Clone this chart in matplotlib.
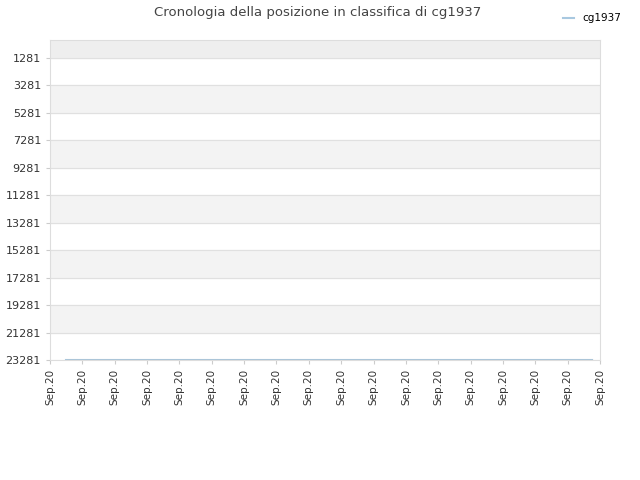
import matplotlib
matplotlib.use("Agg")
import matplotlib.pyplot as plt

tick_labels = ["Sep.20"] * 18
yticks = [1281, 3281, 5281, 7281, 9281, 11281, 13281, 15281, 17281, 19281, 21281, 23281]
x_vals = [0.5, 16.75]
ranks = [23281, 23281]

fig = plt.figure(figsize=(6.4, 4.8), dpi=100)
ax = fig.add_axes([50/640, 1-360/480, 550/640, 320/480])
ax.set_xlim(0, 17)
ax.set_ylim(23281, -30)
ax.axhspan(-30, 1281, color="#eeeeee", zorder=0)
for i in range(len(yticks) - 1):
    if i % 2 == 1:
        ax.axhspan(yticks[i], yticks[i+1], color="#f3f3f3", zorder=0)
for y in yticks:
    ax.axhline(y, color="#e0e0e0", lw=0.8, zorder=1)
ax.plot(x_vals, ranks, color="#a8c8e0", lw=1.5, zorder=3, label="cg1937")
ax.plot(x_vals, ranks, color="#bbbbbb", lw=1, zorder=4)
ax.set_yticks(yticks)
ax.set_yticklabels([str(y) for y in yticks], fontsize=8, color="#333333")
ax.set_xticks(range(18))
ax.set_xticklabels(tick_labels, rotation=90, fontsize=7.5, color="#333333")
for s in ax.spines.values():
    s.set_color("#dddddd")
ax.tick_params(length=3, color="#cccccc")
fig.text(0.497, 0.988, "Cronologia della posizione in classifica di cg1937", ha="center", va="top", fontsize=9.5, color="#444444")
fig.legend(loc="upper right", bbox_to_anchor=(0.985, 0.992), frameon=False, fontsize=7.5, handlelength=1)
fig.savefig("out.png", dpi=100)
